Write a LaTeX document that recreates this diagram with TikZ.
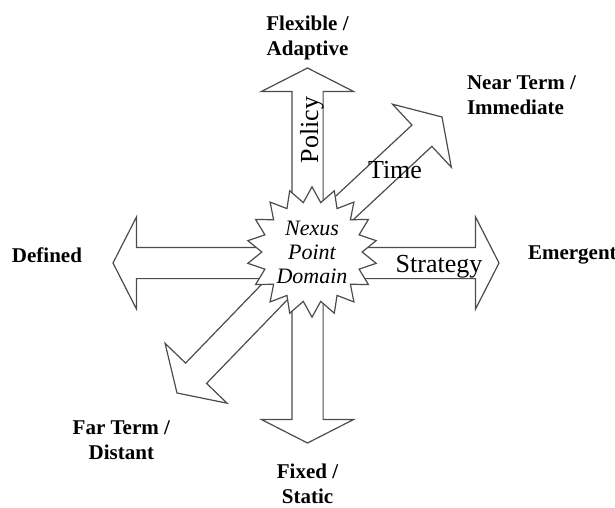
\documentclass[tikz,border=0pt]{standalone}
\usepackage{fontspec}
\setmainfont{Liberation Serif}
\usetikzlibrary{shapes,positioning}

\begin{document}
\begin{tikzpicture}[x=0.5pt,y=-0.5pt,
    blockarrow/.style={single arrow,draw=black!70,fill=white,line width=0.6pt,
      inner xsep=0pt,inner ysep=7.5pt,outer sep=0pt,anchor=tip,
      single arrow head extend=15.25pt,single arrow tip angle=126},
    axislabel/.style={font=\fontsize{10.5}{12.5}\selectfont\bfseries,align=center},
    dimlabel/.style={font=\fontsize{13}{15}\selectfont}]

  \useasboundingbox (0,0) rectangle (615,508);

  \node[blockarrow,rotate=90,minimum height=97pt]   (flexArrow) at (307.5,68)  {};
  \node[blockarrow,rotate=-90,minimum height=90.5pt] (fixArrow)  at (307.5,443) {};
  \node[blockarrow,rotate=180,minimum height=97.5pt] (defArrow)  at (113,263)   {};
  \node[blockarrow,minimum height=96pt]              (emArrow)   at (499,263)   {};
  \node[blockarrow,rotate=43,minimum height=80pt,inner ysep=7pt,
        single arrow head extend=14.25pt,single arrow tip angle=115] (nearArrow) at (442,117) {};
  \node[blockarrow,rotate=226,minimum height=92pt,inner ysep=7pt,
        single arrow head extend=14.25pt,single arrow tip angle=115] (farArrow)  at (177,393) {};

  \node[star,star points=18,star point ratio=1.3,minimum size=62pt,inner sep=0pt,
        draw=black!70,fill=white,line width=0.6pt,align=center,
        font=\fontsize{11}{12}\selectfont\itshape] (nexus) at (312,252) {Nexus\\Point\\Domain};

  \node[axislabel]            (flexLbl) [above=0.5pt of flexArrow.tip] {Flexible /\\Adaptive};
  \node[axislabel]            (fixLbl)  [below=7pt of fixArrow.tip]    {Fixed /\\Static};
  \node[axislabel]            (defLbl)  [left=12pt of defArrow.tip,yshift=4pt] {Defined};
  \node[axislabel]            (emLbl)   [right=11pt of emArrow.tip,yshift=4pt] {Emergent};
  \node[axislabel,align=left] (nearLbl) [above right=0pt and 9pt of nearArrow.tip,yshift=-2.5pt] {Near Term /\\Immediate};
  \node[axislabel]            (farLbl)  [below left=10.5pt and 0pt of farArrow.tip] {Far Term /\\Distant};

  \node[dimlabel,rotate=90] (policyLbl) at (312,130) {Policy};
  \node[dimlabel]           (timeLbl)   at (395,170) {Time};
  \node[dimlabel]           (stratLbl)  at (439,267) {Strategy};
\end{tikzpicture}
\end{document}
